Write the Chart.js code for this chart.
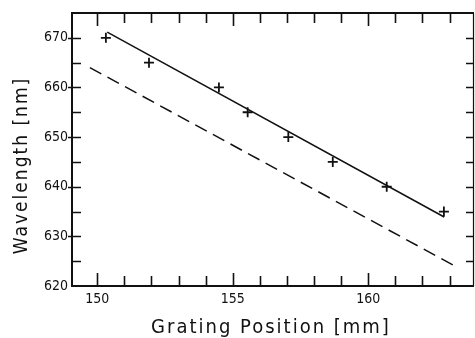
<!DOCTYPE html>
<html>
<head>
<meta charset="utf-8">
<script src="https://cdn.jsdelivr.net/npm/chart.js@4/dist/chart.umd.min.js"></script>
<style>
  body { margin:0; background:#fff; }
  canvas { display:block; }
</style>
</head>
<body>
<canvas id="chart" width="475" height="338"></canvas>
<script>
// measured points (grating position vs wavelength)
const positionMm = [150.32, 151.91, 154.49, 155.55, 157.05, 158.69, 160.68, 162.79];
const wavelengthNm = [670, 665, 660, 655, 650, 645, 640, 635];

// solid fit line and dashed line end points
const fitX = [150.37, 162.8];
const fitY = [671.15, 633.9];
const dashX = [149.73, 163.17];
const dashY = [664.0, 624.1];

// tick labels
const xLabels = [150, 155, 160];
const yLabels = [620, 630, 640, 650, 660, 670];
const xTitle = 'Grating Position [mm]';
const yTitle = 'Wavelength [nm]';

const toPts = (xs, ys) => xs.map((x, i) => ({ x: x, y: ys[i] }));

// frame, inward ticks and spaced-out axis titles
const frameTicks = {
  id: 'frameTicks',
  afterDraw(chart) {
    const ctx = chart.ctx;
    const a = chart.chartArea;
    const xs = chart.scales.x, ys = chart.scales.y;
    ctx.save();
    ctx.strokeStyle = '#111';
    ctx.lineCap = 'butt';

    // frame
    ctx.lineWidth = 2;
    ctx.beginPath();
    ctx.moveTo(a.right, a.top); ctx.lineTo(a.left, a.top);
    ctx.lineTo(a.left, a.bottom); ctx.lineTo(a.right, a.bottom);
    ctx.stroke();
    ctx.lineWidth = 1.2;
    ctx.beginPath();
    ctx.moveTo(a.right - 0.5, a.top); ctx.lineTo(a.right - 0.5, a.bottom);
    ctx.stroke();

    // x ticks, every 1 mm, top and bottom
    ctx.lineWidth = 1.6;
    for (let v = 150; v <= 163; v++) {
      const px = Math.round(xs.getPixelForValue(v)) + 0.5;
      const len = v % 5 === 0 ? 13 : 10;
      ctx.beginPath();
      ctx.moveTo(px, a.bottom); ctx.lineTo(px, a.bottom - len);
      ctx.moveTo(px, a.top); ctx.lineTo(px, a.top + len);
      ctx.stroke();
    }

    // y ticks, every 5 nm, left and right
    for (let v = 625; v <= 670; v += 5) {
      const py = Math.round(ys.getPixelForValue(v)) + 0.5;
      const major = v % 10 === 0;
      ctx.beginPath();
      ctx.moveTo(major ? a.left - 4 : a.left, py); ctx.lineTo(a.left + 9, py);
      ctx.moveTo(a.right, py); ctx.lineTo(a.right - 8, py);
      ctx.stroke();
    }

    // axis titles
    ctx.fillStyle = '#111';
    ctx.letterSpacing = '2px';
    ctx.textAlign = 'center';
    ctx.textBaseline = 'alphabetic';
    ctx.font = '20px "DejaVu Sans Condensed", "DejaVu Sans", sans-serif';
    ctx.fillText(xTitle, (a.left + a.right) / 2 - 2, 333);
    ctx.font = '19px "DejaVu Sans Condensed", "DejaVu Sans", sans-serif';
    ctx.translate(27, (a.top + a.bottom) / 2 + 16);
    ctx.rotate(-Math.PI / 2);
    ctx.fillText(yTitle, 0, 0);
    ctx.restore();
  }
};

const tickFont = { family: '"Liberation Sans Narrow", "DejaVu Sans Condensed", sans-serif', size: 14 };

new Chart(document.getElementById('chart'), {
  type: 'scatter',
  data: {
    datasets: [
      {
        data: toPts(fitX, fitY),
        showLine: true,
        borderColor: '#111',
        borderWidth: 1.5,
        pointRadius: 0
      },
      {
        data: toPts(dashX, dashY),
        showLine: true,
        borderColor: '#111',
        borderWidth: 1.5,
        borderDash: [13, 7],
        pointRadius: 0
      },
      {
        data: toPts(positionMm, wavelengthNm),
        pointStyle: 'cross',
        pointRadius: 5,
        borderColor: '#111',
        borderWidth: 1.8,
        backgroundColor: '#111'
      }
    ]
  },
  options: {
    responsive: false,
    animation: false,
    devicePixelRatio: 1,
    layout: { autoPadding: false, padding: { top: 13, right: 1, left: 0, bottom: 0 } },
    plugins: { legend: { display: false }, tooltip: { enabled: false } },
    scales: {
      x: {
        type: 'linear',
        min: 149.07,
        max: 163.9,
        afterBuildTicks: s => { s.ticks = xLabels.map(v => ({ value: v })); },
        afterFit: s => { s.height = 52; s.paddingLeft = 0; s.paddingRight = 0; },
        grid: { display: false, drawTicks: false },
        border: { display: false },
        ticks: { color: '#111', padding: 5, font: tickFont }
      },
      y: {
        type: 'linear',
        min: 620,
        max: 675,
        afterBuildTicks: s => { s.ticks = yLabels.map(v => ({ value: v })); },
        afterFit: s => { s.width = 72; s.paddingTop = 0; s.paddingBottom = 0; },
        grid: { display: false, drawTicks: false },
        border: { display: false },
        ticks: { color: '#111', padding: 4, font: tickFont }
      }
    }
  },
  plugins: [frameTicks]
});
</script>
</body>
</html>
